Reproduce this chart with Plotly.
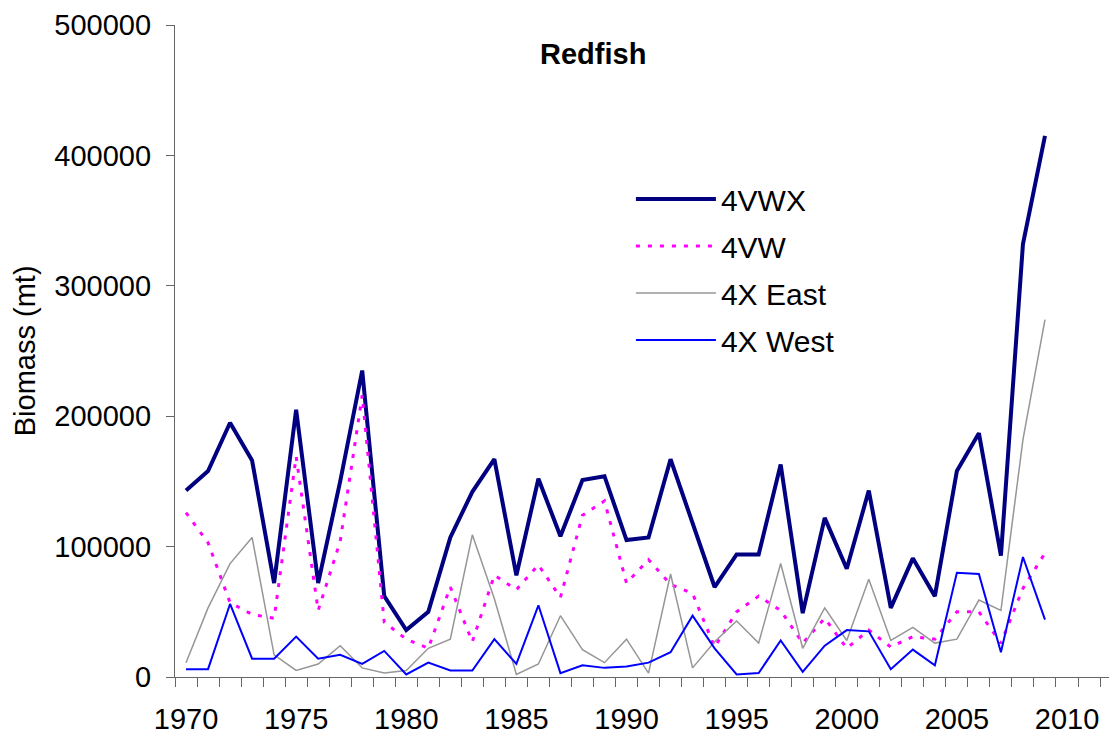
import plotly.graph_objects as go

years = list(range(1970, 2010))

biomass_4vwx = [143000, 158000, 195000, 166000, 72000, 205000, 72000, 150000, 235000, 62000,
                36000, 50000, 107000, 142000, 167000, 78000, 152000, 108000, 151000, 154000,
                105000, 107000, 167000, 118000, 69000, 94000, 94000, 163000, 49000, 122000,
                83000, 143000, 53000, 91000, 62000, 158000, 187000, 93000, 332000, 415000]

biomass_4vw = [126000, 103000, 57000, 48000, 45000, 169000, 51000, 104000, 216000, 42000,
               29000, 22000, 69000, 27000, 78000, 67000, 86000, 61000, 124000, 135000,
               72000, 90000, 71000, 64000, 23000, 50000, 62000, 51000, 26000, 45000,
               22000, 36000, 23000, 31000, 29000, 50000, 50000, 26000, 68000, 95000]

biomass_4x_east = [11000, 53000, 87000, 107000, 17000, 5000, 10000, 24000, 7000, 3000,
                   5000, 22000, 29000, 109000, 60000, 2000, 10000, 47000, 21000, 11000,
                   29000, 3000, 79000, 7000, 27000, 43000, 26000, 87000, 22000, 53000,
                   28000, 75000, 28000, 38000, 26000, 29000, 59000, 51000, 182000, 274000]

biomass_4x_west = [6000, 6000, 56000, 14000, 14000, 31000, 14000, 17000, 10000, 20000,
                   2000, 11000, 5000, 5000, 29000, 10000, 55000, 3000, 9000, 7000,
                   8000, 11000, 19000, 47000, 22000, 2000, 3000, 28000, 4000, 24000,
                   36000, 35000, 6000, 21000, 9000, 80000, 79000, 19000, 92000, 44000]

series_names = ["4VWX", "4VW", "4X East", "4X West"]
title_text = "Redfish"
y_title = "Biomass (mt)"

FONT = "Arial, Liberation Sans, sans-serif"

fig = go.Figure()
styles = [
    dict(color="#000080", width=4),
    dict(color="#FF00FF", width=3, dash="4px,8px"),
    dict(color="#969696", width=1.5),
    dict(color="#0000FF", width=2),
]
for name, vals, st in zip(series_names,
                          [biomass_4vwx, biomass_4vw, biomass_4x_east, biomass_4x_west],
                          styles):
    fig.add_trace(go.Scatter(x=years, y=vals, mode="lines", name=name,
                             line=st, legendgroup=name))

fig.update_layout(
    width=1109, height=732,
    margin=dict(l=167, r=0, t=17, b=63),
    plot_bgcolor="white", paper_bgcolor="white",
    font=dict(family=FONT, size=29, color="black"),
    showlegend=True,
    legend=dict(x=0.484, y=0.773, xanchor="left", yanchor="top",
                bgcolor="rgba(0,0,0,0)", borderwidth=0,
                font=dict(size=30, family=FONT), tracegroupgap=5,
                itemwidth=80),
    xaxis=dict(range=[1969.5, 2012.27], showgrid=False, zeroline=False,
               automargin=False, ticklabeloverflow="allow",
               showline=True, linecolor="#666666", linewidth=1.3,
               tick0=1970, dtick=5, ticks="outside", ticklen=0,
               tickfont=dict(size=29), ticklabelstandoff=16,
               minor=dict(tick0=1969.5, dtick=1, ticks="outside", ticklen=9,
                          tickcolor="#666666", tickwidth=1.3, showgrid=False)),
    yaxis=dict(range=[0, 500000], showgrid=False, zeroline=False,
               automargin=False, ticklabeloverflow="allow",
               showline=True, linecolor="#666666", linewidth=1.3,
               tick0=0, dtick=100000, ticks="outside", ticklen=8,
               tickcolor="#666666", tickwidth=1.3, tickformat="d",
               tickfont=dict(size=29), ticklabelstandoff=9),
    annotations=[
        dict(text="<b>" + title_text + "</b>", xref="paper", yref="paper",
             x=0.444, y=0.9555, xanchor="center", yanchor="middle",
             showarrow=False, font=dict(size=29, family=FONT)),
        dict(text=y_title, xref="paper", yref="paper", x=-0.159, y=0.5,
             xanchor="center", yanchor="middle", textangle=-90,
             showarrow=False, font=dict(size=29, family=FONT)),
    ],
)

fig.write_html("out.html")
